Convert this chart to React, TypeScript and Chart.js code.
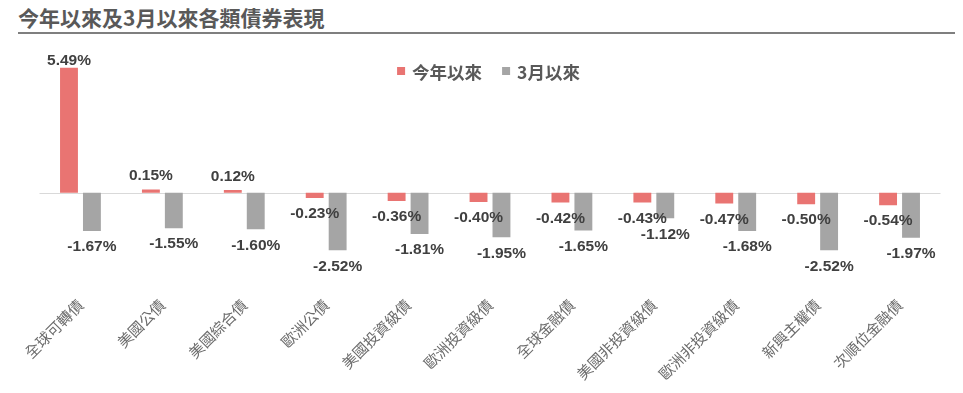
import React, { useEffect, useRef } from "react";
import { Chart, registerables } from "chart.js";

Chart.register(...registerables);

const TITLE = "今年以來及3月以來各類債券表現";
const categories = [
  "全球可轉債",
  "美國公債",
  "美國綜合債",
  "歐洲公債",
  "美國投資級債",
  "歐洲投資級債",
  "全球金融債",
  "美國非投資級債",
  "歐洲非投資級債",
  "新興主權債",
  "次順位金融債",
];
const seriesNames = ["今年以來", "3月以來"];
const ytdValues = [5.49, 0.15, 0.12, -0.23, -0.36, -0.4, -0.42, -0.43, -0.47, -0.5, -0.54];
const sinceMarchValues = [-1.67, -1.55, -1.6, -2.52, -1.81, -1.95, -1.65, -1.12, -1.68, -2.52, -1.97];
const colors = ["#E97472", "#A5A5A5"];

const CJK = '"Noto Sans CJK TC", "Noto Sans", sans-serif';
const LAT = '"Liberation Sans", Arial, sans-serif';

const zeroLinePlugin = {
  id: "zeroLine",
  beforeDatasetsDraw(chart: any) {
    const { ctx, chartArea, scales } = chart;
    const y = Math.round(scales.y.getPixelForValue(0)) + 0.5;
    ctx.save();
    ctx.strokeStyle = "#D9D9D9";
    ctx.lineWidth = 1;
    ctx.beginPath();
    ctx.moveTo(chartArea.left, y);
    ctx.lineTo(chartArea.right, y);
    ctx.stroke();
    ctx.restore();
  },
};

const labelPlugin = {
  id: "valueLabels",
  afterDatasetsDraw(chart: any) {
    const { ctx, chartArea } = chart;
    ctx.save();
    ctx.font = `bold 15.5px ${LAT}`;
    ctx.fillStyle = "#404040";
    ctx.textAlign = "center";
    ctx.textBaseline = "middle";
    chart.data.datasets.forEach((ds: any, i: number) => {
      const meta = chart.getDatasetMeta(i);
      meta.data.forEach((el: any, j: number) => {
        const v = ds.data[j];
        let y = v >= 0 ? el.y - 13.5 : el.y + 16;
        if (v >= 0) y = Math.max(y, chartArea.top + 5);
        ctx.fillText(v.toFixed(2) + "%", el.x, y);
      });
    });
    ctx.restore();
  },
};

const legendPlugin = {
  id: "customLegend",
  afterDraw(chart: any) {
    const { ctx } = chart;
    ctx.save();
    ctx.font = `bold 17.5px ${CJK}`;
    const box = 8;
    const gapText = 7;
    const spacing = 20;
    const items = chart.data.datasets.map((d: any) => ({
      label: d.label,
      color: d.backgroundColor,
      w: box + gapText + ctx.measureText(d.label).width,
    }));
    const total = items.reduce((s: number, it: any) => s + it.w, 0) + spacing * (items.length - 1);
    let x = 488.5 - total / 2;
    const cy = 71.5;
    items.forEach((it: any) => {
      ctx.fillStyle = it.color;
      ctx.fillRect(x, cy - 4.5, box, box);
      ctx.fillStyle = "#595959";
      ctx.textBaseline = "middle";
      ctx.textAlign = "left";
      ctx.fillText(it.label, x + box + gapText, cy + 1);
      x += it.w + spacing;
    });
    ctx.restore();
  },
};

export default function App() {
  const ref = useRef<HTMLCanvasElement | null>(null);
  useEffect(() => {
    if (!ref.current) return;
    const chart = new Chart(ref.current, {
      type: "bar",
      data: {
        labels: categories,
        datasets: [
          {
            label: seriesNames[0],
            data: ytdValues,
            backgroundColor: colors[0],
            categoryPercentage: 0.56,
            barPercentage: 0.78,
          },
          {
            label: seriesNames[1],
            data: sinceMarchValues,
            backgroundColor: colors[1],
            categoryPercentage: 0.56,
            barPercentage: 0.78,
          },
        ],
      },
      options: {
        responsive: false,
        animation: false,
        layout: { padding: { top: 56, left: 39.5, right: 22.5, bottom: 6 } },
        plugins: {
          legend: { display: false },
          tooltip: { enabled: false },
          title: { display: false },
        },
        scales: {
          x: {
            grid: { display: false },
            border: { display: false },
            ticks: {
              minRotation: 45,
              maxRotation: 45,
              autoSkip: false,
              padding: 4,
              color: "#6B6B6B",
              font: { size: 15, family: CJK },
            },
          },
          y: {
            display: false,
            min: -4,
            max: 6,
          },
        },
      },
      plugins: [zeroLinePlugin, labelPlugin, legendPlugin],
    });
    return () => chart.destroy();
  }, []);

  return (
    <div
      style={{
        position: "fixed",
        left: 0,
        top: 0,
        width: 963,
        height: 393,
        background: "#fff",
        overflow: "hidden",
      }}
    >
      <div
        style={{
          position: "absolute",
          left: 18,
          top: 5,
          fontFamily: CJK,
          fontSize: 21,
          lineHeight: "24px",
          fontWeight: "bold",
          color: "#595959",
          whiteSpace: "nowrap",
        }}
      >
        {TITLE}
      </div>
      <div
        style={{
          position: "absolute",
          left: 18,
          top: 32,
          width: 937,
          height: 2,
          background: "#7F7F7F",
        }}
      />
      <canvas ref={ref} width={963} height={393} style={{ position: "absolute", left: 0, top: 0 }} />
    </div>
  );
}
